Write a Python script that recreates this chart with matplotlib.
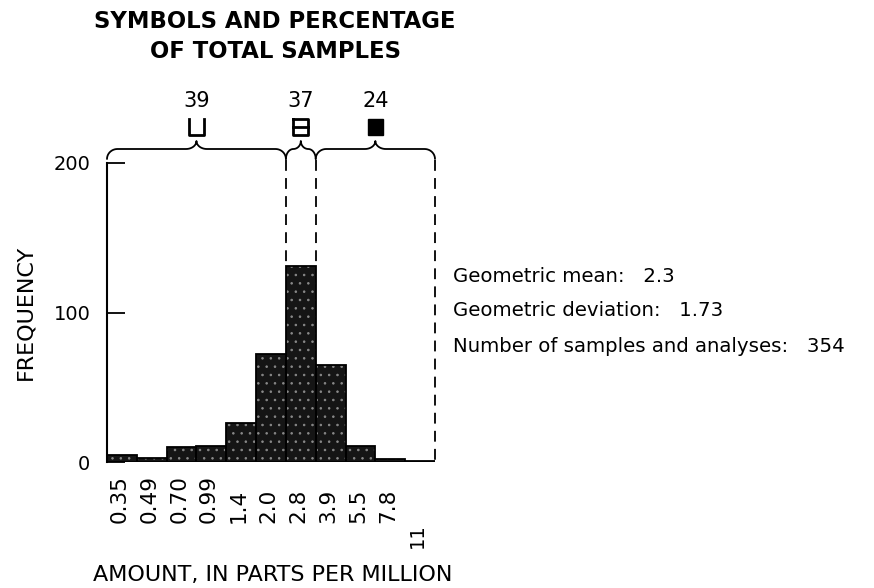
import numpy as np
import matplotlib
matplotlib.use("Agg")
import matplotlib.pyplot as plt

plt.rcParams['font.family'] = ['DejaVu Sans']
plt.rcParams['hatch.linewidth'] = 0.6

# ---- data ----
categories = ["0.35", "0.49", "0.70", "0.99", "1.4", "2.0", "2.8", "3.9", "5.5", "7.8", "11"]
frequency = [5, 3, 10, 11, 26, 72, 131, 65, 11, 2, 1]
group_percent = ["39", "37", "24"]
group_edges = [(0, 6), (6, 7), (7, 11)]          # bin index ranges for each group
stats_labels = ["Geometric mean:", "Geometric deviation:", "Number of samples and analyses:"]
stats_values = ["2.3", "1.73", "354"]
yticks = [0, 100, 200]

W, H = 874, 588
fig = plt.figure(figsize=(W / 100, H / 100), dpi=100)

def fx(x):
    return x / W

def fy(y):
    return 1 - y / H

ax_left, ax_right, ax_bottom, ax_top = 107, 435, 462, 163
ax = fig.add_axes([fx(ax_left), fy(ax_bottom), (ax_right - ax_left) / W, (ax_bottom - ax_top) / H])

x = np.arange(len(categories))
ax.bar(x, frequency, width=1.0, color='#151515', edgecolor='#8a8a8a', hatch='..', linewidth=0)
ax.bar(x, frequency, width=1.0, facecolor='none', edgecolor='black', linewidth=1.3)

ax.set_xlim(-0.5, len(categories) - 0.5)
ax.set_ylim(0, 200)
for s in ['top', 'right', 'bottom']:
    ax.spines[s].set_visible(False)
ax.spines['left'].set_linewidth(1.5)
ax.set_yticks(yticks)
ax.set_yticklabels([str(v) for v in yticks], fontsize=14)
ax.tick_params(axis='y', direction='in', length=13, width=1.3, pad=12)
ax.set_xticks([])

# x tick labels (rotated, bottom aligned)
for i, lab in enumerate(categories):
    if lab == "11":
        ax.text(i - 0.08, -0.205, lab, rotation=90, ha='center', va='top', fontsize=14,
                transform=ax.get_xaxis_transform())
    else:
        ax.text(i - 0.08, -0.205, lab, rotation=90, ha='center', va='bottom', fontsize=15.5,
                transform=ax.get_xaxis_transform())

# pixel -> data y conversion
ppu = (ax_bottom - ax_top) / 200.0  # pixels per data unit

def py2d(py):
    return (ax_bottom - py) / ppu

# braces
def brace(x0, x1, y_line, h_end, h_tip, r):
    xm = (x0 + x1) / 2
    t = np.linspace(0, np.pi / 2, 12)
    xs, ys = [], []
    xs += list(x0 + r * (1 - np.cos(t)))
    ys += list(y_line - h_end * (1 - np.sin(t)))
    xs += list(xm - r + r * np.sin(t))
    ys += list(y_line + h_tip * (1 - np.cos(t)))
    xs += list(xm + r * (1 - np.cos(t)))
    ys += list(y_line + h_tip * (1 - np.sin(t)))
    xs += list(x1 - r + r * np.sin(t))
    ys += list(y_line - h_end * (1 - np.cos(t)))
    ax.plot(xs, ys, color='black', lw=1.3, clip_on=False, solid_capstyle='round')

y_line = py2d(149)
h_end = y_line - py2d(159)
h_tip = py2d(141) - y_line
sym_y = py2d(127)
num_y = py2d(101)
sym_half_w = 7.5 / 29.8
sym_half_h = 8 / ppu

for k, ((a, b), pct) in enumerate(zip(group_edges, group_percent)):
    x0, x1 = a - 0.5, b - 0.5
    r = min(0.35, (x1 - x0) / 4.0)
    brace(x0, x1, y_line, h_end, h_tip, r)
    xm = (x0 + x1) / 2
    ax.text(xm, num_y, pct, ha='center', va='center', fontsize=15, clip_on=False)
    l, rr = xm - sym_half_w, xm + sym_half_w
    bot, top = sym_y - sym_half_h, sym_y + sym_half_h
    if k == 0:
        ax.plot([l, l, rr, rr], [top, bot, bot, top], color='black', lw=2, clip_on=False)
    elif k == 1:
        ax.plot([l, l, rr, rr, l], [top, bot, bot, top, top], color='black', lw=2, clip_on=False)
        ax.plot([l, rr], [sym_y, sym_y], color='black', lw=2, clip_on=False)
    else:
        ax.add_patch(plt.Rectangle((l, bot), rr - l, top - bot, color='black', clip_on=False))

# dashed lines
dash_top = py2d(160)
peak = int(np.argmax(frequency))
for xe in [peak - 0.5, peak + 0.5]:
    ax.plot([xe, xe], [dash_top, frequency[peak]], color='black', lw=1.3,
            linestyle=(0, (6, 4)), clip_on=False)
ax.plot([len(categories) - 0.5] * 2, [dash_top, 0], color='black', lw=1.3,
        linestyle=(0, (6, 4)), clip_on=False)

# titles and labels
fig.text(fx(275), fy(22), "SYMBOLS AND PERCENTAGE", ha='center', va='center',
         fontsize=16.4, fontweight='bold')
fig.text(fx(275), fy(52), "OF TOTAL SAMPLES", ha='center', va='center',
         fontsize=16.4, fontweight='bold')
fig.text(fx(25), fy(312), "FREQUENCY", rotation=90, ha='center', va='center', fontsize=16)
fig.text(fx(273), fy(575), "AMOUNT, IN PARTS PER MILLION", ha='center', va='center', fontsize=16)

for lab, val, yy in zip(stats_labels, stats_values, [276, 311, 347]):
    fig.text(fx(453), fy(yy), f"{lab}   {val}", ha='left', va='center', fontsize=14.2)

fig.savefig("out.png", dpi=100)
